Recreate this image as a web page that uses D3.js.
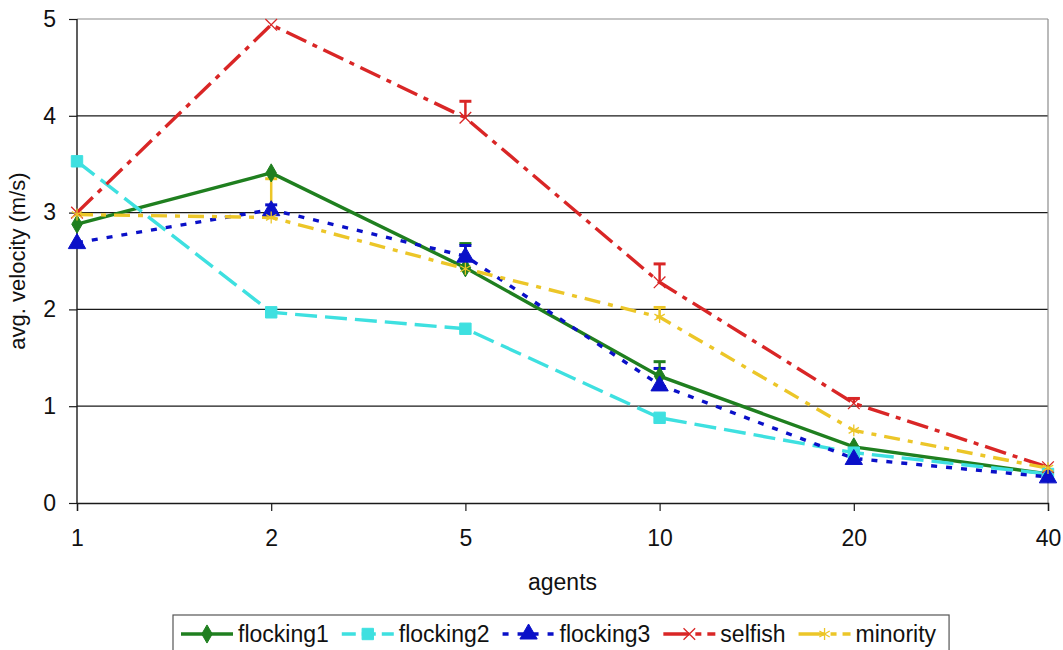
<!DOCTYPE html>
<html>
<head>
<meta charset="utf-8">
<script src="https://cdn.jsdelivr.net/npm/d3@7"></script>
<style>
  html, body { margin: 0; padding: 0; background: #fff; }
  svg { display: block; font-family: "Liberation Sans", Arial, sans-serif; }
</style>
</head>
<body>
<div id="chart"></div>
<script>
// ── Data ──
const agents = ["1", "2", "5", "10", "20", "40"];
const yTicks = [0, 1, 2, 3, 4, 5];

const flocking1    = [2.88, 3.41, 2.43, 1.31, 0.58, 0.30];
const flocking1Err = [0, 0, 0.25, 0.15, 0, 0];
const flocking2    = [3.53, 1.97, 1.80, 0.88, 0.52, 0.30];
const flocking2Err = [0, 0, 0, 0, 0, 0];
const flocking3    = [2.69, 3.03, 2.55, 1.22, 0.46, 0.27];
const flocking3Err = [0, 0.05, 0.11, 0.17, 0, 0];
const selfish      = [3.00, 4.94, 3.98, 2.28, 1.03, 0.37];
const selfishErr   = [0, 0, 0.17, 0.19, 0.05, 0];
const minority     = [2.98, 2.95, 2.42, 1.92, 0.75, 0.36];
const minorityErr  = [0, 0.40, 0, 0.10, 0, 0];

const series = [
  { name: "flocking1", values: flocking1, err: flocking1Err, color: "#1f7f1f", dash: null,       legDash: null,        symbol: d3.symbolDiamond,  size: 95,  filled: true },
  { name: "flocking2", values: flocking2, err: flocking2Err, color: "#3ee0e0", dash: "22,8",     legDash: "14,6",      symbol: d3.symbolSquare,   size: 130, filled: true },
  { name: "flocking3", values: flocking3, err: flocking3Err, color: "#0a10c8", dash: "6,9",      legDash: "6,9",       symbol: d3.symbolTriangle, size: 130, filled: true },
  { name: "selfish",   values: selfish,   err: selfishErr,   color: "#d92626", dash: "22,7,5,7", legDash: "26,6,6,6",  symbol: d3.symbolTimes,    size: 90,  filled: false },
  { name: "minority",  values: minority,  err: minorityErr,  color: "#ecc628", dash: "16,8,5,8", legDash: "26,6,6,6",  symbol: d3.symbolAsterisk, size: 100, filled: false }
];

const W = 1063, H = 650;
const MARGIN = { top: 19, right: 15, bottom: 147, left: 77 };
const innerW = W - MARGIN.left - MARGIN.right;
const innerH = H - MARGIN.top - MARGIN.bottom;
const FONT = "'Liberation Sans', Arial, sans-serif";

const svg = d3.select("#chart").append("svg")
  .attr("width", W).attr("height", H);

const g = svg.append("g")
  .attr("transform", `translate(${MARGIN.left},${MARGIN.top})`);

const x = d3.scalePoint().domain(agents).range([0, innerW]);
const y = d3.scaleLinear().domain([0, 5]).range([innerH, 0]);

// ── Grid + frame ──
g.append("g").selectAll("line")
  .data(yTicks.filter(t => t > 0 && t < 5))
  .join("line")
  .attr("x1", 0).attr("x2", innerW)
  .attr("y1", d => y(d)).attr("y2", d => y(d))
  .attr("stroke", "#1a1a1a").attr("stroke-width", 1.2);

g.append("line")
  .attr("x1", 0).attr("x2", innerW).attr("y1", y(5)).attr("y2", y(5))
  .attr("stroke", "#8c8c8c").attr("stroke-width", 1.2);
g.append("line")
  .attr("x1", innerW).attr("x2", innerW).attr("y1", y(5)).attr("y2", y(0))
  .attr("stroke", "#8c8c8c").attr("stroke-width", 1.2);

// ── Axes ──
const yAxis = g.append("g")
  .call(d3.axisLeft(y).tickValues(yTicks).tickSize(8).tickPadding(13).tickFormat(d3.format("d")));
const xAxis = g.append("g")
  .attr("transform", `translate(0,${innerH})`)
  .call(d3.axisBottom(x).tickSize(8).tickPadding(19));

[yAxis, xAxis].forEach(a => {
  a.attr("font-size", null).attr("font-family", null);
  a.select(".domain").attr("stroke", "#1a1a1a").attr("stroke-width", 1.4);
  a.selectAll(".tick line").attr("stroke", "#1a1a1a").attr("stroke-width", 1.2);
  a.selectAll(".tick text")
    .style("font-size", "23px")
    .style("font-family", FONT)
    .attr("fill", "#111");
});
yAxis.select(".domain").attr("d", `M0,${innerH}V0`);

// axis titles
svg.append("text")
  .attr("x", MARGIN.left + innerW / 2).attr("y", 590)
  .attr("text-anchor", "middle")
  .style("font-size", "23px").attr("fill", "#111")
  .text("agents");

svg.append("text")
  .attr("transform", `translate(25,${MARGIN.top + innerH / 2}) rotate(-90)`)
  .attr("text-anchor", "middle")
  .style("font-size", "22px").attr("fill", "#111")
  .text("avg. velocity (m/s)");

// ── Error bars (plus only, capped) ──
const errG = g.append("g").attr("class", "err-bars");
series.forEach(s => {
  const pts = s.values.map((v, i) => ({ a: agents[i], v, e: s.err[i] })).filter(p => p.e > 0);
  const eg = errG.append("g").attr("stroke", s.color).attr("stroke-width", 2.5);
  eg.selectAll("line.stem").data(pts).join("line")
    .attr("x1", p => x(p.a)).attr("x2", p => x(p.a))
    .attr("y1", p => y(p.v)).attr("y2", p => y(p.v + p.e));
  eg.selectAll("line.cap").data(pts).join("line")
    .attr("x1", p => x(p.a) - 6).attr("x2", p => x(p.a) + 6)
    .attr("y1", p => y(p.v + p.e)).attr("y2", p => y(p.v + p.e))
    .attr("stroke-width", 3);
});

// ── Lines ──
const line = d3.line().x((d, i) => x(agents[i])).y(d => y(d));
series.forEach(s => {
  g.append("path")
    .datum(s.values)
    .attr("fill", "none")
    .attr("stroke", s.color)
    .attr("stroke-width", 3.4)
    .attr("stroke-dasharray", s.dash)
    .attr("d", line);
});

// ── Markers ──
function drawMarker(sel, s) {
  sel.attr("d", d3.symbol().type(s.symbol).size(s.size))
    .attr("fill", s.filled ? s.color : "none")
    .attr("stroke", s.color)
    .attr("stroke-width", s.filled ? 1 : 1.3);
}
series.forEach(s => {
  g.append("g").selectAll("path")
    .data(s.values)
    .join("path")
    .attr("transform", (d, i) => `translate(${x(agents[i])},${y(d) + (s.symbol === d3.symbolTriangle ? 1 : 0)})`)
    .call(drawMarker, s);
});

// ── Legend ──
const legend = svg.append("g").attr("transform", "translate(173,615)");
const legBox = legend.append("rect")
  .attr("x", 0).attr("y", 0).attr("height", 40)
  .attr("fill", "#fff").attr("stroke", "#555").attr("stroke-width", 1.2);

let cx = 8;
const legY = 19;
series.forEach(s => {
  const item = legend.append("g").attr("transform", `translate(${cx},0)`);
  item.append("line")
    .attr("x1", 0).attr("x2", 52).attr("y1", legY).attr("y2", legY)
    .attr("stroke", s.color).attr("stroke-width", 3.4)
    .attr("stroke-dasharray", s.legDash);
  item.append("path")
    .attr("transform", `translate(26,${legY})`)
    .call(drawMarker, s);
  const t = item.append("text")
    .attr("x", 57).attr("y", legY + 8)
    .style("font-size", "23px").attr("fill", "#111")
    .text(s.name);
  cx += 57 + t.node().getComputedTextLength() + 13;
});
legBox.attr("width", cx);
</script>
</body>
</html>
